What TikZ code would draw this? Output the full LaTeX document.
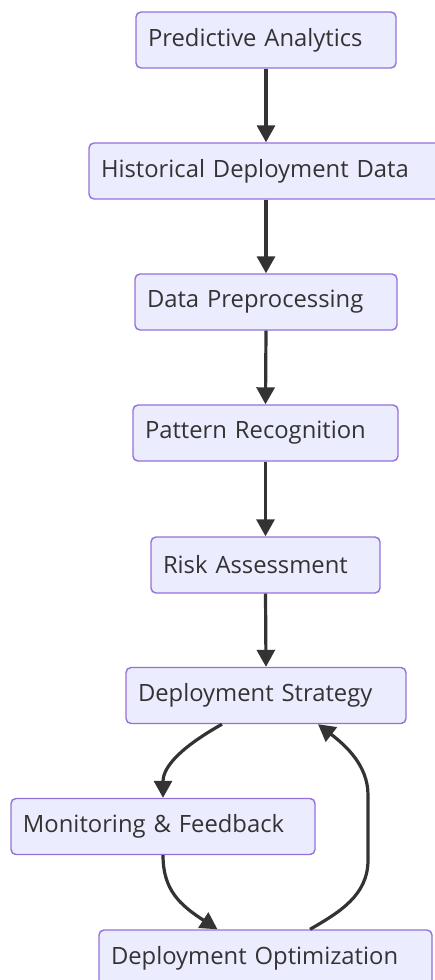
\documentclass[tikz,border=0pt]{standalone}
\usepackage{fontspec}
\setmainfont{Open Sans}
\usetikzlibrary{arrows.meta}
\definecolor{boxfill}{HTML}{ECECFF}
\definecolor{boxline}{HTML}{9370DB}
\definecolor{ink}{HTML}{333333}
\tikzset{
  box/.style={draw=boxline, fill=boxfill, line width=1.4pt, rounded corners=5pt,
    minimum height=56pt, inner xsep=12pt, inner ysep=0pt, align=left,
    text=ink, font=\fontsize{23.8}{28}\selectfont},
  link/.style={draw=ink, line width=3.2pt, -{Triangle[length=17pt,width=18pt]}}
}
\begin{document}
\begin{tikzpicture}[x=1pt,y=-1pt]
\useasboundingbox (0,0) rectangle (434,980);
\node[box, text width=236pt] (pa) at (266,40) {Predictive Analytics};
\node[box, text width=330pt] (hd) at (266,171) {Historical Deployment Data};
\node[box, text width=238pt] (dp) at (266,302) {Data Preprocessing};
\node[box, text width=241pt] (pr) at (265.5,433) {Pattern Recognition};
\node[box, text width=205pt] (ra) at (265.5,565) {Risk Assessment};
\node[box, text width=256pt] (ds) at (266,695.5) {Deployment Strategy};
\node[box, text width=280pt] (mf) at (163,826.5) {Monitoring \& Feedback};
\node[box, text width=309pt] (do) at (265.5,958) {Deployment Optimization};
\draw[link] (pa.south) -- (hd.north);
\draw[link] (hd.south) -- (dp.north);
\draw[link] (dp.south) -- (pr.north);
\draw[link] (pr.south) -- (ra.north);
\draw[link] (ra.south) -- (ds.north);
\draw[link] ([xshift=-44pt]ds.south) .. controls (185,745) and (163,765) .. (mf.north);
\draw[link] (mf.south) .. controls (163,890) and (180,905) .. ([xshift=-48pt]do.north);
\draw[link] ([xshift=44.5pt]do.north) .. controls (340,912) and (368,895) .. (368,860) -- (368,795) .. controls (368,765) and (345,745) .. ([xshift=52pt]ds.south);
\end{tikzpicture}
\end{document}
